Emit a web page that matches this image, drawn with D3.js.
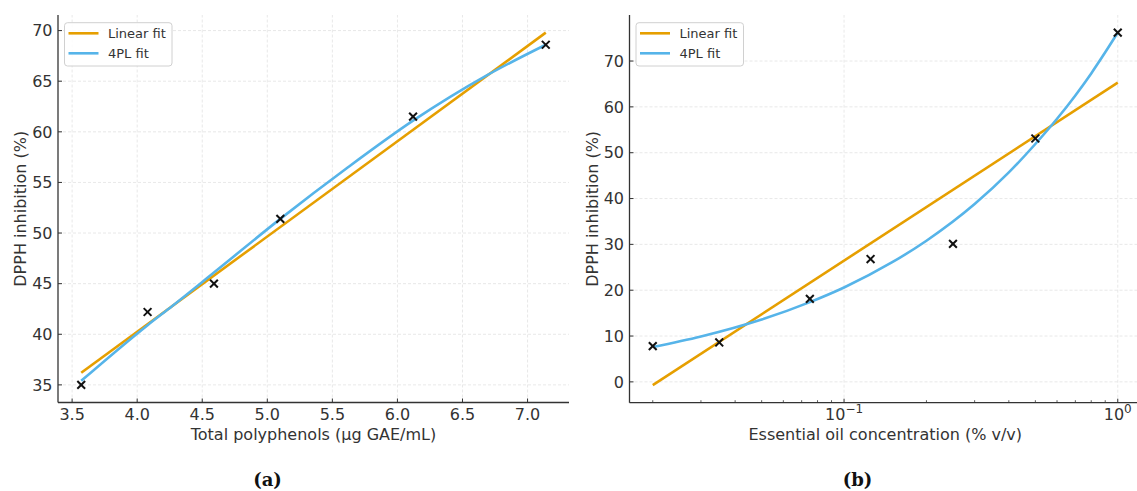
<!DOCTYPE html>
<html>
<head>
<meta charset="utf-8">
<script src="https://cdn.jsdelivr.net/npm/d3@7"></script>
<style>
  body { margin: 0; background: #fff; }
  svg { display: block; font-family: "DejaVu Sans", sans-serif; }
</style>
</head>
<body>
<svg id="chart" width="1137" height="491"></svg>
<script>
// panel (a): polyphenols vs DPPH
var polyX = [3.57, 4.08, 4.59, 5.10, 6.12, 7.14];
var polyY = [35.0, 42.2, 45.0, 51.4, 61.5, 68.6];
var polyLinX = [3.57, 7.14];
var polyLinY = [36.2, 69.8];
var polyFitX = [3.57, 4.08, 4.27, 4.59, 5.10, 5.61, 6.12, 6.69, 7.14];
var polyFitY = [35.4, 40.9, 42.8, 46.1, 51.4, 56.4, 61.1, 65.6, 68.6];
var polyXTicks = [3.5, 4.0, 4.5, 5.0, 5.5, 6.0, 6.5, 7.0];
var polyYTicks = [35, 40, 45, 50, 55, 60, 65, 70];

// panel (b): essential oil concentration (log) vs DPPH
var oilX = [0.02, 0.035, 0.075, 0.125, 0.25, 0.5, 1.0];
var oilY = [7.8, 8.6, 18.1, 26.8, 30.1, 53.1, 76.2];
var oilLinX = [0.02, 1.0];
var oilLinY = [-0.7, 65.3];
var oilFitX = [0.02, 0.03, 0.05, 0.075, 0.1, 0.15, 0.2, 0.3, 0.4, 0.5, 0.6, 0.7, 0.8, 0.9, 1.0];
var oilFitY = [7.6, 9.9, 13.6, 17.4, 20.6, 26.1, 30.8, 38.8, 45.7, 51.9, 57.4, 62.5, 67.3, 71.9, 76.2];
var oilXTicks = [0.1, 1];
var oilXMinor = [0.02, 0.03, 0.04, 0.05, 0.06, 0.07, 0.08, 0.09, 0.2, 0.3, 0.4, 0.5, 0.6, 0.7, 0.8, 0.9];
var oilYTicks = [0, 10, 20, 30, 40, 50, 60, 70];

var seriesNames = ["Linear fit", "4PL fit"];
var seriesColors = ["#E69F00", "#56B4E9"];

var svg = d3.select("#chart");
var ink = "#333";

function pad(lo, hi) {
  var d = (hi - lo) * 0.05;
  return [lo - d, hi + d];
}

function zip(xs, ys) {
  return xs.map(function (x, i) { return [x, ys[i]]; });
}

function drawPanel(p) {
  var g = svg.append("g");
  var x = p.x, y = p.y;
  var left = x.range()[0], right = x.range()[1];
  var bottom = y.range()[0], top = y.range()[1];

  // grid
  g.selectAll(".gx").data(p.xTicks).enter().append("line")
    .attr("x1", d => x(d)).attr("x2", d => x(d))
    .attr("y1", bottom).attr("y2", top)
    .attr("stroke", "#e2e2e2").attr("stroke-width", 0.8)
    .attr("stroke-dasharray", "3,2");
  g.selectAll(".gy").data(p.yTicks).enter().append("line")
    .attr("x1", left).attr("x2", right)
    .attr("y1", d => y(d)).attr("y2", d => y(d))
    .attr("stroke", "#e2e2e2").attr("stroke-width", 0.8)
    .attr("stroke-dasharray", "3,2");

  // fits
  var line = d3.line().x(d => x(d[0])).y(d => y(d[1]));
  g.append("path").datum(zip(p.linX, p.linY))
    .attr("d", line).attr("fill", "none")
    .attr("stroke", seriesColors[0]).attr("stroke-width", 2.6);
  g.append("path").datum(zip(p.fitX, p.fitY))
    .attr("d", line.curve(d3.curveMonotoneX)).attr("fill", "none")
    .attr("stroke", seriesColors[1]).attr("stroke-width", 2.6);

  // x markers
  var s = 3.9;
  var pts = g.selectAll(".pt").data(zip(p.ptX, p.ptY)).enter().append("g")
    .attr("transform", d => "translate(" + x(d[0]) + "," + y(d[1]) + ")");
  pts.append("line").attr("x1", -s).attr("y1", -s).attr("x2", s).attr("y2", s);
  pts.append("line").attr("x1", -s).attr("y1", s).attr("x2", s).attr("y2", -s);
  pts.selectAll("line").attr("stroke", "#111").attr("stroke-width", 2);

  // spines
  g.append("line").attr("x1", left).attr("x2", left).attr("y1", bottom).attr("y2", top)
    .attr("stroke", ink).attr("stroke-width", 1.3);
  g.append("line").attr("x1", left).attr("x2", right).attr("y1", bottom).attr("y2", bottom)
    .attr("stroke", ink).attr("stroke-width", 1.3);

  // ticks (inward)
  g.selectAll(".ty").data(p.yTicks).enter().append("line")
    .attr("x1", left).attr("x2", left + 4)
    .attr("y1", d => y(d)).attr("y2", d => y(d))
    .attr("stroke", ink).attr("stroke-width", 1);
  g.selectAll(".tx").data(p.xTicks).enter().append("line")
    .attr("x1", d => x(d)).attr("x2", d => x(d))
    .attr("y1", bottom).attr("y2", bottom - 4)
    .attr("stroke", ink).attr("stroke-width", 1);
  if (p.xMinor) {
    g.selectAll(".tm").data(p.xMinor).enter().append("line")
      .attr("x1", d => x(d)).attr("x2", d => x(d))
      .attr("y1", bottom).attr("y2", bottom - 2.5)
      .attr("stroke", ink).attr("stroke-width", 0.8);
  }

  // tick labels
  g.selectAll(".ly").data(p.yTicks).enter().append("text")
    .attr("x", left - 5.5).attr("y", d => y(d))
    .attr("dy", "0.36em")
    .attr("text-anchor", "end").attr("font-size", 16).attr("fill", ink)
    .text(d => d);
  var lx = g.selectAll(".lx").data(p.xTicks).enter().append("text")
    .attr("x", d => x(d)).attr("y", 420)
    .attr("text-anchor", "middle").attr("font-size", 16).attr("fill", ink);
  if (p.logX) {
    lx.append("tspan").text("10");
    lx.append("tspan").attr("dy", -7).attr("font-size", 12)
      .text(function (d) {
        var e = Math.round(Math.log10(d));
        return e < 0 ? "\u2212" + Math.abs(e) : e;
      });
  } else {
    lx.text(d => d3.format(".1f")(d));
  }

  // axis labels
  g.append("text").attr("x", (left + right) / 2).attr("y", 440)
    .attr("text-anchor", "middle").attr("font-size", 16).attr("fill", ink)
    .text(p.xLabel);
  g.append("text")
    .attr("transform", "translate(" + (left - 32) + "," + ((top + bottom) / 2) + ") rotate(-90)")
    .attr("text-anchor", "middle").attr("font-size", 16).attr("fill", ink)
    .text("DPPH inhibition (%)");

  // legend
  var lg = g.append("g").attr("transform", "translate(" + (left + 6.5) + "," + (top + 7.7) + ")");
  lg.append("rect").attr("width", 107.5).attr("height", 43.3).attr("rx", 3)
    .attr("fill", "#fff").attr("fill-opacity", 0.85)
    .attr("stroke", "#d0d0d0").attr("stroke-width", 1);
  var items = lg.selectAll(".li").data(seriesNames).enter().append("g")
    .attr("transform", (d, i) => "translate(0," + (10.6 + i * 20) + ")");
  items.append("line").attr("x1", 4).attr("x2", 34)
    .attr("stroke", (d, i) => seriesColors[i]).attr("stroke-width", 2.6);
  items.append("text").attr("x", 43.5).attr("dy", "0.36em")
    .attr("font-size", 13).attr("fill", ink).text(d => d);

  // caption
  svg.append("text").attr("x", p.capX).attr("y", 486)
    .attr("text-anchor", "middle")
    .attr("font-family", "'DejaVu Serif', serif").attr("font-weight", "bold")
    .attr("font-size", 18).attr("fill", "#111")
    .text(p.caption);
}

// panel (a)
var ax = d3.scaleLinear().domain(pad(d3.min(polyX), d3.max(polyX))).range([58, 569]);
var allA = polyY.concat(polyLinY, polyFitY);
var ay = d3.scaleLinear().domain(pad(d3.min(allA), d3.max(allA))).range([402.5, 15]);
drawPanel({
  x: ax, y: ay, xTicks: polyXTicks, yTicks: polyYTicks,
  ptX: polyX, ptY: polyY, linX: polyLinX, linY: polyLinY, fitX: polyFitX, fitY: polyFitY,
  xLabel: "Total polyphenols (\u03bcg GAE/mL)", caption: "(a)", capX: 267.5
});

// panel (b), log x
var lo = Math.log10(d3.min(oilX)), hi = Math.log10(d3.max(oilX));
var lpad = pad(lo, hi);
var bx = d3.scaleLog().domain([Math.pow(10, lpad[0]), Math.pow(10, lpad[1])]).range([629.5, 1141]);
var allB = oilY.concat(oilLinY, oilFitY);
var by = d3.scaleLinear().domain(pad(d3.min(allB), d3.max(allB))).range([402.7, 15]);
drawPanel({
  x: bx, y: by, xTicks: oilXTicks, xMinor: oilXMinor, yTicks: oilYTicks, logX: true,
  ptX: oilX, ptY: oilY, linX: oilLinX, linY: oilLinY, fitX: oilFitX, fitY: oilFitY,
  xLabel: "Essential oil concentration (% v/v)", caption: "(b)", capX: 857.5
});
</script>
</body>
</html>
